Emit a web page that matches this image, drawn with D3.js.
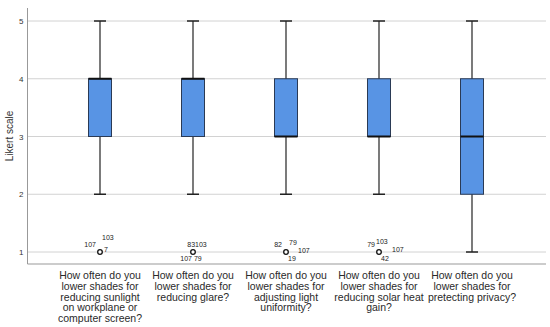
<!DOCTYPE html>
<html>
<head>
<meta charset="utf-8">
<script src="https://cdn.jsdelivr.net/npm/d3@7"></script>
<style>
  body { margin: 0; background: #fff; }
  text { font-family: "Liberation Sans", Arial, sans-serif; }
</style>
</head>
<body>
<div id="chart"></div>
<script>
// questions on the x axis
var categories = [
  ["How often do you", "lower shades for", "reducing sunlight", "on workplane or", "computer screen?"],
  ["How often do you", "lower shades for", "reducing glare?"],
  ["How often do you", "lower shades for", "adjusting light", "uniformity?"],
  ["How often do you", "lower shades for", "reducing solar heat", "gain?"],
  ["How often do you", "lower shades for", "pretecting privacy?"]
];

// five-number summaries
var whiskerLow = [2, 2, 2, 2, 1];
var q1 = [3, 3, 3, 3, 2];
var median = [4, 4, 3, 3, 3];
var q3 = [4, 4, 4, 4, 4];
var whiskerHigh = [5, 5, 5, 5, 5];

// outliers (value) per question, with case labels
var outlierValue = [1, 1, 1, 1, null];
var outlierLabels = [
  [{t: "103", dx: 2, dy: -14, a: "start"}, {t: "107", dx: -4, dy: -7, a: "end"}, {t: "7", dx: 4, dy: -2, a: "start"}],
  [{t: "83103", dx: 4, dy: -7, a: "middle"}, {t: "107 79", dx: -2, dy: 7, a: "middle"}],
  [{t: "82", dx: -4, dy: -7, a: "end"}, {t: "79", dx: 3, dy: -9, a: "start"}, {t: "107", dx: 12, dy: -1, a: "start"}, {t: "19", dx: 6, dy: 7, a: "middle"}],
  [{t: "79", dx: -4, dy: -7, a: "end"}, {t: "103", dx: -3, dy: -10, a: "start"}, {t: "107", dx: 13, dy: -2, a: "start"}, {t: "42", dx: 6, dy: 7, a: "middle"}],
  []
];

var yTicks = [1, 2, 3, 4, 5];

var width = 550, height = 327;

var svg = d3.select("#chart").append("svg")
    .attr("width", width)
    .attr("height", height);

var x = d3.scalePoint()
    .domain(d3.range(categories.length))
    .range([100, 472]);

var y = d3.scaleLinear()
    .domain([1, 5])
    .range([252, 21]);

var axisLeftX = 27.5, axisBottomY = 264, gridRight = 546;

// gridlines
svg.append("g")
    .selectAll("line")
    .data(yTicks)
    .enter().append("line")
    .attr("x1", axisLeftX)
    .attr("x2", gridRight)
    .attr("y1", function(d) { return y(d); })
    .attr("y2", function(d) { return y(d); })
    .attr("stroke", "#d2d2d2")
    .attr("stroke-width", 1);

// y axis via d3
var yAxis = svg.append("g")
    .attr("transform", "translate(" + axisLeftX + ",0)")
    .call(d3.axisLeft(y).tickValues(yTicks).tickSize(0).tickPadding(4).tickFormat(d3.format("d")));
yAxis.select(".domain").remove();
yAxis.selectAll("text")
    .attr("font-size", 8)
    .attr("fill", "#333");

svg.append("line")
    .attr("x1", axisLeftX).attr("x2", axisLeftX)
    .attr("y1", 8).attr("y2", axisBottomY)
    .attr("stroke", "#999");

svg.append("line")
    .attr("x1", axisLeftX).attr("x2", gridRight)
    .attr("y1", axisBottomY).attr("y2", axisBottomY)
    .attr("stroke", "#999");

svg.append("text")
    .attr("transform", "translate(13,136) rotate(-90)")
    .attr("text-anchor", "middle")
    .attr("font-size", 10)
    .attr("fill", "#333")
    .text("Likert scale");

var boxW = 23, capW = 12;

var boxes = svg.selectAll(".box")
    .data(d3.range(categories.length))
    .enter().append("g")
    .attr("class", "box");

// whisker lines
boxes.append("line")
    .attr("x1", function(i) { return x(i); })
    .attr("x2", function(i) { return x(i); })
    .attr("y1", function(i) { return y(whiskerLow[i]); })
    .attr("y2", function(i) { return y(whiskerHigh[i]); })
    .attr("stroke", "#222")
    .attr("stroke-width", 1.2);

// caps
[whiskerLow, whiskerHigh].forEach(function(arr) {
  boxes.append("line")
      .attr("x1", function(i) { return x(i) - capW / 2; })
      .attr("x2", function(i) { return x(i) + capW / 2; })
      .attr("y1", function(i) { return y(arr[i]); })
      .attr("y2", function(i) { return y(arr[i]); })
      .attr("stroke", "#222")
      .attr("stroke-width", 1.5);
});

// boxes
boxes.append("rect")
    .attr("x", function(i) { return x(i) - boxW / 2; })
    .attr("width", boxW)
    .attr("y", function(i) { return y(q3[i]); })
    .attr("height", function(i) { return y(q1[i]) - y(q3[i]); })
    .attr("fill", "#5894e4")
    .attr("stroke", "#2a3a55")
    .attr("stroke-width", 1);

// medians
boxes.append("line")
    .attr("x1", function(i) { return x(i) - boxW / 2; })
    .attr("x2", function(i) { return x(i) + boxW / 2; })
    .attr("y1", function(i) { return y(median[i]); })
    .attr("y2", function(i) { return y(median[i]); })
    .attr("stroke", "#111")
    .attr("stroke-width", 2);

// outliers
var out = boxes.filter(function(i) { return outlierValue[i] !== null; });
out.append("circle")
    .attr("cx", function(i) { return x(i); })
    .attr("cy", function(i) { return y(outlierValue[i]); })
    .attr("r", 2.3)
    .attr("fill", "#fff")
    .attr("stroke", "#111")
    .attr("stroke-width", 1.3);

out.each(function(i) {
  d3.select(this).selectAll("text.ol")
      .data(outlierLabels[i])
      .enter().append("text")
      .attr("class", "ol")
      .attr("x", function(d) { return x(i) + d.dx; })
      .attr("y", function(d) { return y(outlierValue[i]) + d.dy; })
      .attr("dy", "0.35em")
      .attr("text-anchor", function(d) { return d.a; })
      .attr("font-size", 7)
      .attr("fill", "#222")
      .text(function(d) { return d.t; });
});

// category labels
var labels = svg.selectAll(".cat")
    .data(categories)
    .enter().append("text")
    .attr("class", "cat")
    .attr("text-anchor", "middle")
    .attr("font-size", 10.5)
    .attr("fill", "#2a2a2a");

labels.each(function(lines, i) {
  d3.select(this).selectAll("tspan")
      .data(lines)
      .enter().append("tspan")
      .attr("x", x(i))
      .attr("y", function(d, j) { return 279 + j * 10.8; })
      .text(function(d) { return d; });
});
</script>
</body>
</html>
